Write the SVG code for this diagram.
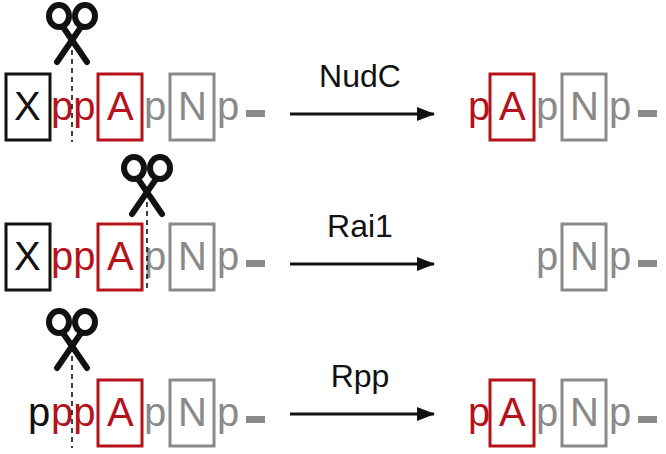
<svg xmlns="http://www.w3.org/2000/svg" width="666" height="454" viewBox="0 0 666 454">
<defs>
<style>
text{font-family:"Liberation Sans",Arial,sans-serif;font-size:40px}
.k{fill:#111}.r{fill:#b5121b}.g{fill:#8a8a8a}
.bk{fill:none;stroke:#111;stroke-width:3}
.br{fill:none;stroke:#b5121b;stroke-width:3}
.bg{fill:none;stroke:#8a8a8a;stroke-width:3}
.dash{fill:#8a8a8a}
.cut{stroke:#111;stroke-width:1.6;stroke-dasharray:5,4}
.lbl{font-size:32px;fill:#111}
</style>
<symbol id="sc" viewBox="-30 0 60 70" overflow="visible">
<g fill="none" stroke="#111" stroke-width="6" stroke-linecap="round">
<ellipse cx="-13" cy="16" rx="10" ry="11"/><ellipse cx="13" cy="16" rx="10" ry="11"/>
<path d="M-9 27 L15 62"/><path d="M9 27 L-15 62"/>
</g>
</symbol>
<marker id="ah" markerWidth="18" markerHeight="14" refX="17" refY="7" orient="auto" markerUnits="userSpaceOnUse"><path d="M0 0 L18 7 L0 14 Z" fill="#111"/></marker>
</defs>
<g id="row1">
<use href="#sc" x="42" y="0" width="60" height="70"/>
<rect class="bk" x="6" y="74" width="44" height="66"/><text class="k" x="14" y="120">X</text>
<text class="r" x="51" y="120">pp</text>
<rect class="br" x="98" y="74" width="44" height="66"/><text class="r" x="107" y="120">A</text>
<text class="g" x="144" y="120">p</text>
<rect class="bg" x="170" y="74" width="44" height="66"/><text class="g" x="178" y="120">N</text>
<text class="g" x="217" y="120">p</text><rect class="dash" x="246" y="110" width="19" height="7"/>
<line class="cut" x1="72" y1="50" x2="72" y2="142"/>
</g>
<g id="row2">
<use href="#sc" x="117" y="152" width="60" height="70"/>
<rect class="bk" x="6" y="224" width="44" height="66"/><text class="k" x="14" y="270">X</text>
<text class="r" x="51" y="270">pp</text>
<rect class="br" x="98" y="224" width="44" height="66"/><text class="r" x="107" y="270">A</text>
<text class="g" x="144" y="270">p</text>
<rect class="bg" x="170" y="224" width="44" height="66"/><text class="g" x="178" y="270">N</text>
<text class="g" x="217" y="270">p</text><rect class="dash" x="246" y="260" width="19" height="7"/>
<line class="cut" x1="147" y1="202" x2="147" y2="292"/>
</g>
<g id="row3">
<use href="#sc" x="42" y="306" width="60" height="70"/>
<text class="k" x="28" y="426">p</text><text class="r" x="51" y="426">pp</text>
<rect class="br" x="98" y="380" width="44" height="66"/><text class="r" x="107" y="426">A</text>
<text class="g" x="144" y="426">p</text>
<rect class="bg" x="170" y="380" width="44" height="66"/><text class="g" x="178" y="426">N</text>
<text class="g" x="217" y="426">p</text><rect class="dash" x="246" y="416" width="19" height="7"/>
<line class="cut" x1="72" y1="356" x2="72" y2="448"/>
</g>
<g id="out1">
<text class="r" x="468" y="120">p</text>
<rect class="br" x="490" y="74" width="44" height="66"/><text class="r" x="499" y="120">A</text>
<text class="g" x="536" y="120">p</text>
<rect class="bg" x="562" y="74" width="44" height="66"/><text class="g" x="570" y="120">N</text>
<text class="g" x="609" y="120">p</text><rect class="dash" x="638" y="110" width="19" height="7"/>
</g>
<g id="out2">
<text class="g" x="536" y="270">p</text>
<rect class="bg" x="562" y="224" width="44" height="66"/><text class="g" x="570" y="270">N</text>
<text class="g" x="609" y="270">p</text><rect class="dash" x="638" y="260" width="19" height="7"/>
</g>
<g id="out3">
<text class="r" x="468" y="426">p</text>
<rect class="br" x="490" y="380" width="44" height="66"/><text class="r" x="499" y="426">A</text>
<text class="g" x="536" y="426">p</text>
<rect class="bg" x="562" y="380" width="44" height="66"/><text class="g" x="570" y="426">N</text>
<text class="g" x="609" y="426">p</text><rect class="dash" x="638" y="416" width="19" height="7"/>
</g>
<g id="connectors" stroke="#111" stroke-width="3" marker-end="url(#ah)">
<line x1="290" y1="114" x2="434" y2="114"/>
<line x1="290" y1="264" x2="434" y2="264"/>
<line x1="290" y1="414" x2="434" y2="414"/>
</g>
<g id="labels">
<text class="lbl" x="360" y="87" text-anchor="middle">NudC</text>
<text class="lbl" x="360" y="237" text-anchor="middle">Rai1</text>
<text class="lbl" x="360" y="387" text-anchor="middle">Rpp</text>
</g>
</svg>
